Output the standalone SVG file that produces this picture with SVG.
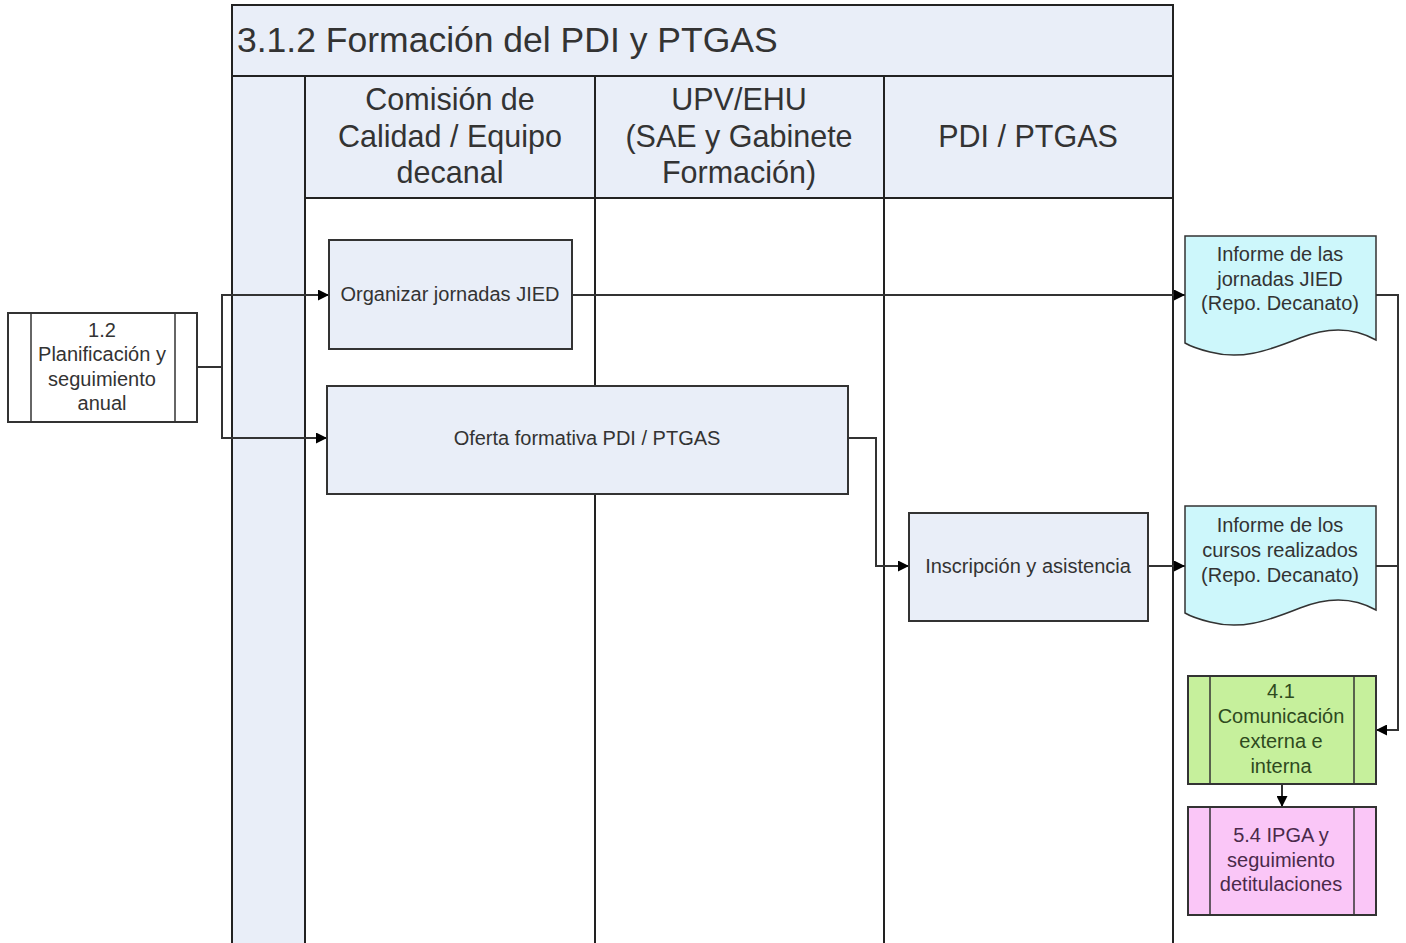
<svg xmlns="http://www.w3.org/2000/svg" width="1406" height="943" viewBox="0 0 1406 943">
<defs>
<marker id="arr" viewBox="0 0 10 10" refX="10" refY="5" markerWidth="11" markerHeight="11" markerUnits="userSpaceOnUse" orient="auto"><path d="M0,0 L10,5 L0,10 Z" fill="#000"/></marker>
<style>
.lane{fill:#e9eef8;stroke:#222;stroke-width:2}
.body{fill:#fff;stroke:#222;stroke-width:2}
.box{fill:#e9eef8;stroke:#333;stroke-width:2}
.doc{fill:#cdf7fb;stroke:#333;stroke-width:1.5}
.green{fill:#c6f09c;stroke:#333;stroke-width:2}
.pink{fill:#fac6f7;stroke:#333;stroke-width:2}
.line{fill:none;stroke:#333;stroke-width:1.5}
.t{font-family:"Liberation Sans",Arial,sans-serif;fill:#333;text-anchor:middle}
.hd{font-size:30.5px}
.nd{font-size:20px}
.c{fill:none;stroke:#333;stroke-width:2}
</style>
</defs>
<rect width="1406" height="943" fill="#fff"/>
<g id="pool">
<rect class="lane" x="232" y="5" width="941" height="71"/>
<text class="t" x="237" y="52" style="text-anchor:start;font-size:35.5px">3.1.2 Formación del PDI y PTGAS</text>
<rect class="lane" x="232" y="76" width="73" height="880"/>
<rect class="lane" x="305" y="76" width="290" height="122"/>
<rect class="lane" x="595" y="76" width="289" height="122"/>
<rect class="lane" x="884" y="76" width="289" height="122"/>
<rect class="body" x="305" y="198" width="290" height="760"/>
<rect class="body" x="595" y="198" width="289" height="760"/>
<rect class="body" x="884" y="198" width="289" height="760"/>
<text class="t hd" x="450" y="110">Comisión de</text>
<text class="t hd" x="450" y="147">Calidad / Equipo</text>
<text class="t hd" x="450" y="183">decanal</text>
<text class="t hd" x="739" y="110">UPV/EHU</text>
<text class="t hd" x="739" y="147">(SAE y Gabinete</text>
<text class="t hd" x="739" y="183">Formación)</text>
<text class="t hd" x="1028" y="147">PDI / PTGAS</text>
</g>
<g id="connectors">
<path class="c" d="M197,367 H222 V295 H329" marker-end="url(#arr)"/>
<path class="c" d="M222,367 V438 H327" marker-end="url(#arr)"/>
<path class="c" d="M572,295 H1185" marker-end="url(#arr)"/>
<path class="c" d="M848,438 H876 V566 H909" marker-end="url(#arr)"/>
<path class="c" d="M1148,566 H1185" marker-end="url(#arr)"/>
<path class="c" d="M1376,295 H1398 V730 H1376" marker-end="url(#arr)"/>
<path class="c" d="M1376,566 H1398"/>
<path class="c" d="M1282,784 V807" marker-end="url(#arr)"/>
</g>
<g id="n12">
<rect class="box" x="8" y="313" width="189" height="109" style="fill:#fff"/>
<line class="line" x1="31" y1="313" x2="31" y2="422"/>
<line class="line" x1="175" y1="313" x2="175" y2="422"/>
<text class="t nd" x="102" y="337">1.2</text>
<text class="t nd" x="102" y="361">Planificación y</text>
<text class="t nd" x="102" y="386">seguimiento</text>
<text class="t nd" x="102" y="410">anual</text>
</g>
<g id="organizar">
<rect class="box" x="329" y="240" width="243" height="109"/>
<text class="t nd" x="450" y="301">Organizar jornadas JIED</text>
</g>
<g id="oferta">
<rect class="box" x="327" y="386" width="521" height="108"/>
<text class="t nd" x="587" y="445">Oferta formativa PDI / PTGAS</text>
</g>
<g id="inscripcion">
<rect class="box" x="909" y="513" width="239" height="108"/>
<text class="t nd" x="1028" y="573">Inscripción y asistencia</text>
</g>
<g id="doc1">
<path class="doc" d="M1185,236 H1376 V340 C1355,328 1330,326 1300,338 C1265,352 1240,360 1210,352 C1198,349 1190,346 1185,343 Z"/>
<text class="t nd" x="1280" y="261">Informe de las</text>
<text class="t nd" x="1280" y="286">jornadas JIED</text>
<text class="t nd" x="1280" y="310">(Repo. Decanato)</text>
</g>
<g id="doc2">
<path class="doc" d="M1185,506 H1376 V610 C1355,598 1330,596 1300,608 C1265,622 1240,630 1210,622 C1198,619 1190,616 1185,613 Z"/>
<text class="t nd" x="1280" y="532">Informe de los</text>
<text class="t nd" x="1280" y="557">cursos realizados</text>
<text class="t nd" x="1280" y="582">(Repo. Decanato)</text>
</g>
<g id="n41">
<rect class="green" x="1188" y="676" width="188" height="108"/>
<line class="line" x1="1210" y1="676" x2="1210" y2="784"/>
<line class="line" x1="1354" y1="676" x2="1354" y2="784"/>
<text class="t nd" x="1281" y="698" style="fill:#2e4a1e">4.1</text>
<text class="t nd" x="1281" y="723" style="fill:#2e4a1e">Comunicación</text>
<text class="t nd" x="1281" y="748" style="fill:#2e4a1e">externa e</text>
<text class="t nd" x="1281" y="773" style="fill:#2e4a1e">interna</text>
</g>
<g id="n54">
<rect class="pink" x="1188" y="807" width="188" height="108"/>
<line class="line" x1="1210" y1="807" x2="1210" y2="915"/>
<line class="line" x1="1354" y1="807" x2="1354" y2="915"/>
<text class="t nd" x="1281" y="842" style="fill:#4a2a4a">5.4 IPGA y</text>
<text class="t nd" x="1281" y="867" style="fill:#4a2a4a">seguimiento</text>
<text class="t nd" x="1281" y="891" style="fill:#4a2a4a">detitulaciones</text>
</g>
</svg>
